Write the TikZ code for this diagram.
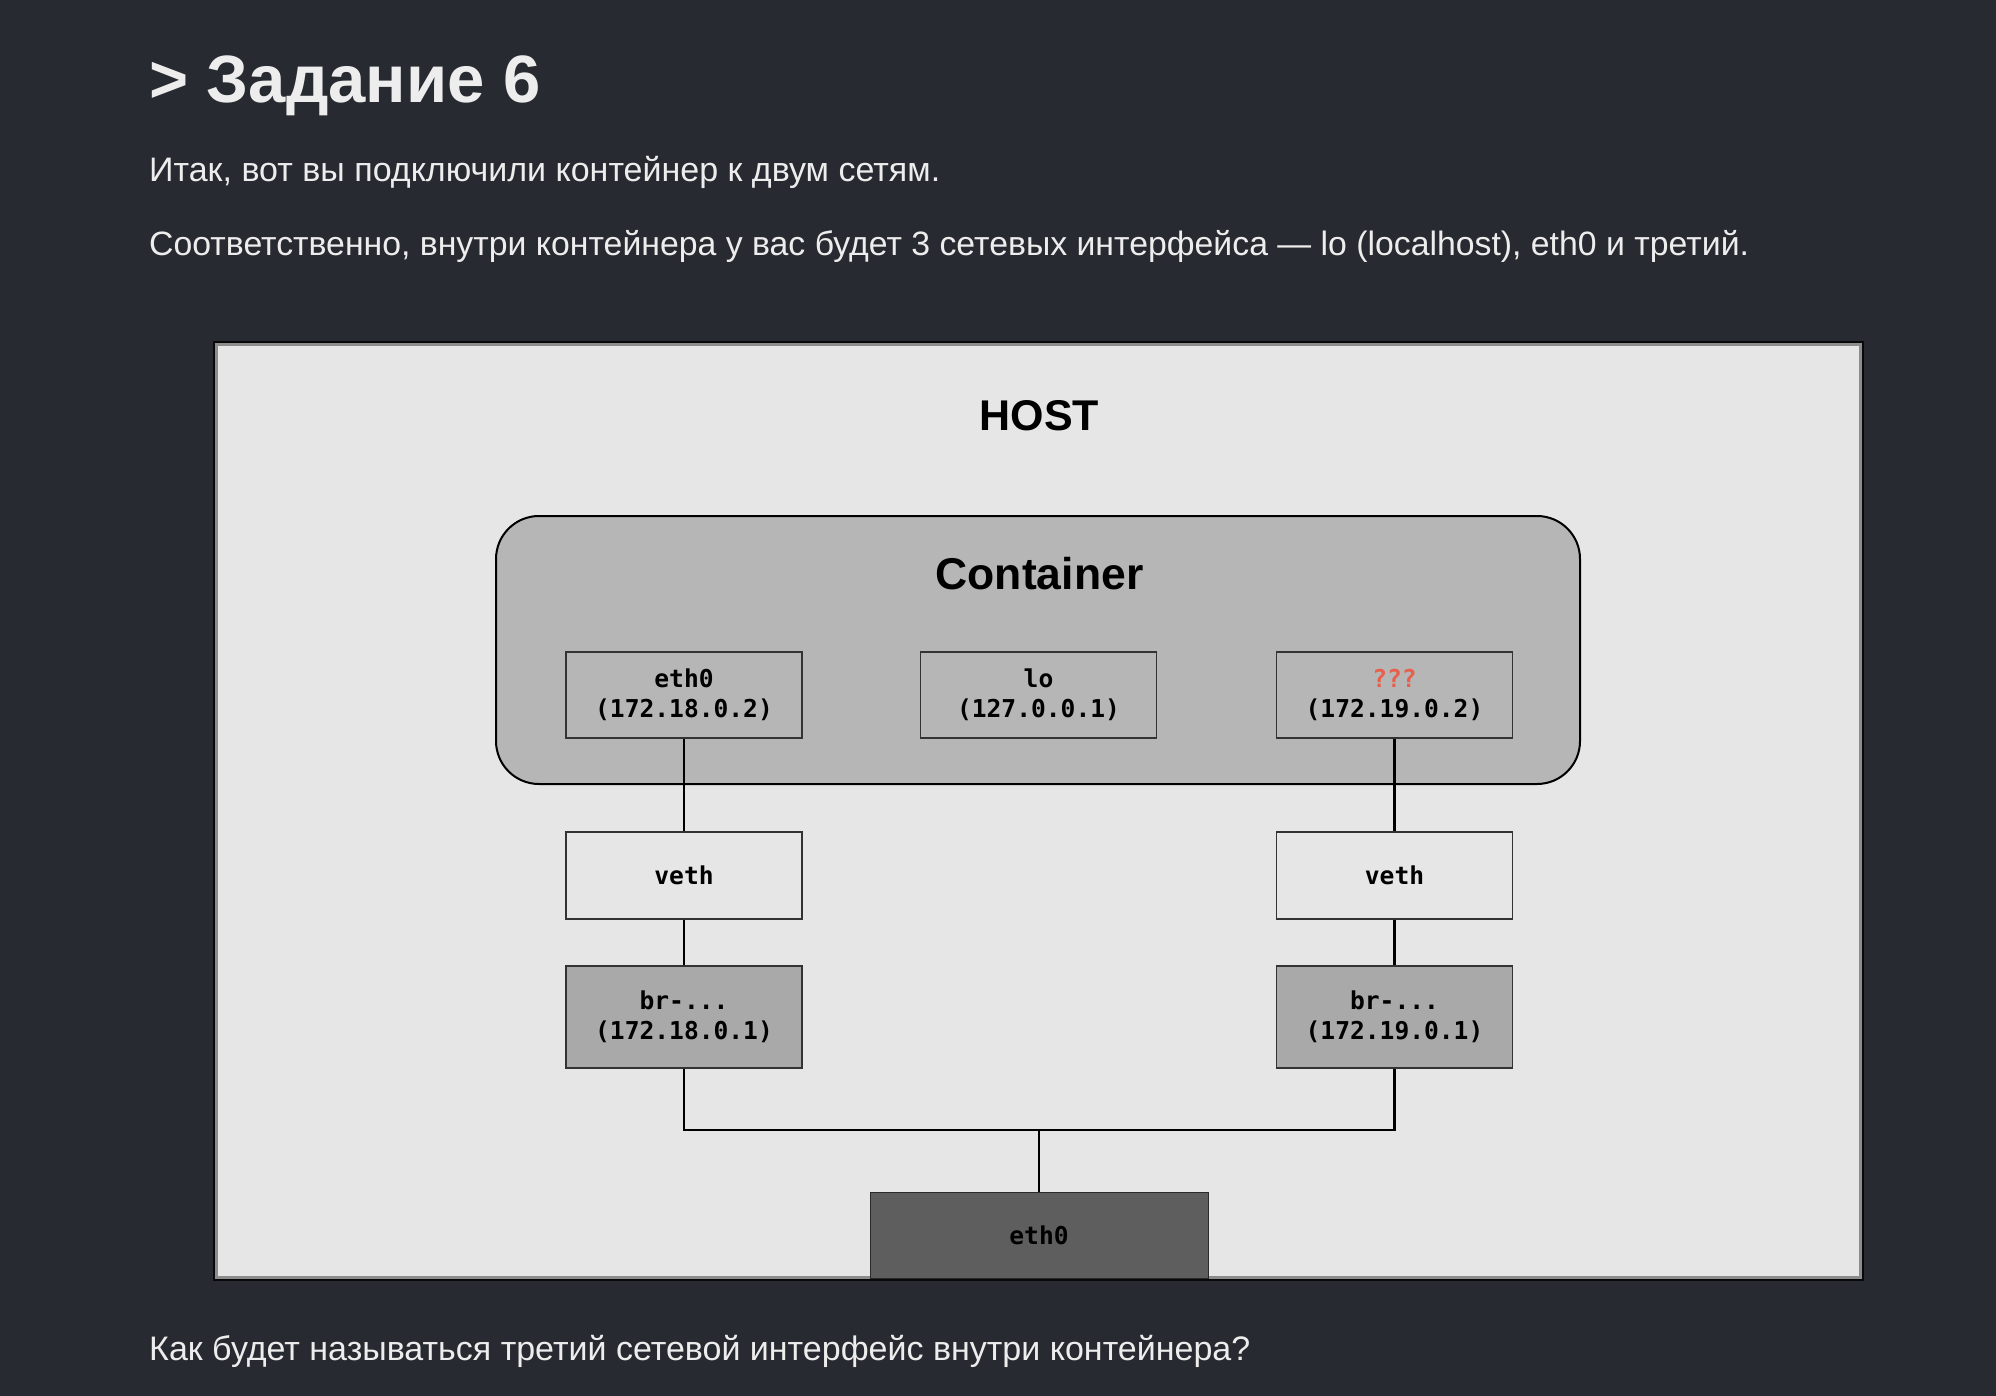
\documentclass[tikz,border=0pt]{standalone}
\usepackage{fontspec}
\setmainfont{Liberation Sans}
\newfontfamily\monof{DejaVu Sans Mono}
\definecolor{bgc}{HTML}{272A30}
\definecolor{txtc}{HTML}{EDEDED}
\definecolor{hostfill}{HTML}{E6E6E6}
\definecolor{hostline}{HTML}{8C8C8C}
\definecolor{contfill}{HTML}{B6B6B6}
\definecolor{brfill}{HTML}{A9A9A9}
\definecolor{hethfill}{HTML}{5E5E5E}
\definecolor{qred}{HTML}{E8604C}
\tikzset{
  para/.style={anchor=base west, text=txtc, inner sep=0pt, font=\fontsize{34}{40}\selectfont},
  hostbox/.style={draw=hostline, line width=3pt, fill=hostfill, minimum width=1644pt, minimum height=933pt, inner sep=0pt},
  contbox/.style={draw=black, line width=2pt, fill=contfill, rounded corners=43pt, minimum width=1084pt, minimum height=268pt, inner sep=0pt},
  ifbox/.style={draw=black!80, line width=1.5pt, minimum width=236pt, minimum height=86pt, inner sep=0pt, align=center, font=\monof\bfseries\fontsize{24.6}{30}\selectfont},
  vethbox/.style={ifbox, fill=hostfill, minimum height=87pt},
  brbox/.style={ifbox, fill=brfill, minimum height=102pt},
  hethbox/.style={draw=black!55!hethfill, line width=1pt, fill=hethfill, minimum width=338pt, minimum height=86pt, inner sep=0pt, font=\monof\bfseries\fontsize{24.6}{30}\selectfont},
  conn/.style={draw=black, line width=2.5pt},
  bigtitle/.style={anchor=base, inner sep=0pt, font=\bfseries\fontsize{43}{50}\selectfont}
}
\begin{document}
\begin{tikzpicture}[x=1pt,y=-1pt]
\fill[bgc] (0,0) rectangle (1996,1396);
\useasboundingbox (0,0) rectangle (1996,1396);

\node[para, font=\bfseries\fontsize{67}{72}\selectfont] (title) at (149,103) {> Задание 6};
\node[para] (p1) at (149,182) {Итак, вот вы подключили контейнер к двум сетям.};
\node[para, font=\fontsize{33.8}{40}\selectfont] (p2) at (149,256) {Соответственно, внутри контейнера у вас будет 3 сетевых интерфейса — lo (localhost), eth0 и третий.};
\node[para] (p3) at (149,1360) {Как будет называться третий сетевой интерфейс внутри контейнера?};

\draw[draw=black!80!bgc, line width=2pt] (214,342) rectangle (1863,1280);
\node[hostbox] (host) at (1038.5,811) {};
\node[bigtitle] (hostlbl) at (1039.5,430) {HOST};

\node[contbox] (cont) at (1038,650) {};
\node[bigtitle, font=\bfseries\fontsize{44.5}{50}\selectfont] (contlbl) at (1039.5,589) {Container};

\node[ifbox] (e1) at (684,695) {eth0\\(172.18.0.2)};
\node[ifbox] (lo) at (1038.5,695) {lo\\(127.0.0.1)};
\node[ifbox] (e2) at (1394.5,695) {\textcolor{qred}{???}\\(172.19.0.2)};

\node[vethbox] (v1) at (684,875.5) {veth};
\node[vethbox] (v2) at (1394.5,875.5) {veth};

\node[brbox] (b1) at (684,1017) {br-...\\(172.18.0.1)};
\node[brbox] (b2) at (1394.5,1017) {br-...\\(172.19.0.1)};

\node[hethbox] (heth) at (1039,1235) {eth0};

\coordinate (j) at (1039,1130);
\draw[conn] (e1.south) -- (v1.north);
\draw[conn] (v1.south) -- (b1.north);
\draw[conn] (e2.south) -- (v2.north);
\draw[conn] (v2.south) -- (b2.north);
\draw[conn] (b1.south) |- (j) -| (b2.south);
\draw[conn] (j) -- (heth.north);
\end{tikzpicture}
\end{document}
